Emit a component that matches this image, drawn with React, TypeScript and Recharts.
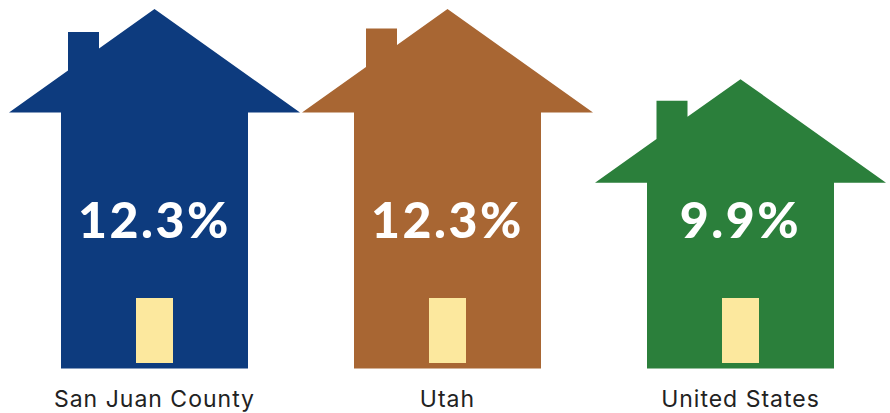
import React from "react";
import { BarChart, Bar, Cell, LabelList, XAxis, YAxis } from "recharts";

const categories = ["San Juan County", "Utah", "United States"];
const rates = [12.3, 12.3, 9.9];

const COLORS = ["#0D3B7E", "#A86633", "#2B7F3B"];
const DOOR = "#FCE89E";
// the chimney sits a little differently on each house in the original
const CHIMNEY_SHIFT = [0, 5, 2.5];
const CHIMNEY_TOP = [23, 19.5, 21.5];

const data = categories.map((name, i) => ({ name, rate: rates[i] }));

// house pictogram: roof and door keep their size, only the walls follow the value
const House = (props: any) => {
  const { x, y, width, height, fill, index } = props;
  const cx = x + width / 2;
  const bottom = y + height;
  const eave = y + 103.5;
  const slope = 103.5 / (width / 2);
  const left = cx - 86.5 + CHIMNEY_SHIFT[index];
  const right = left + 31;
  const d = [
    `M${cx} ${y}`,
    `L${x + width} ${eave}`,
    `L${cx + 93.5} ${eave}`,
    `L${cx + 93.5} ${bottom}`,
    `L${cx - 93.5} ${bottom}`,
    `L${cx - 93.5} ${eave}`,
    `L${x} ${eave}`,
    `L${left} ${y + (cx - left) * slope}`,
    `L${left} ${y + CHIMNEY_TOP[index]}`,
    `L${right} ${y + CHIMNEY_TOP[index]}`,
    `L${right} ${y + (cx - right) * slope}`,
    "Z",
  ].join(" ");
  return (
    <g>
      <path d={d} fill={fill} />
      <rect x={cx - 18.5} y={bottom - 70.5} width={37} height={65} fill={DOOR} />
    </g>
  );
};

const RateLabel = (props: any) => {
  const { x, y, width, height, value } = props;
  return (
    <text
      x={x + width / 2}
      y={y + height - 150}
      textAnchor="middle"
      dominantBaseline="central"
      fill="#ffffff"
      fontFamily="Lato"
      fontWeight={900}
      fontSize={50}
      letterSpacing={2.5}
    >
      {value}%
    </text>
  );
};

const App = () => {
  return (
    <div style={{ position: "absolute", left: 0, top: 0 }}>
      <BarChart
        width={890}
        height={413}
        data={data}
        margin={{ top: 9, right: 3, bottom: 0, left: 8 }}
      >
        <XAxis
          dataKey="name"
          height={44.5}
          axisLine={false}
          tickLine={false}
          interval={0}
          tickMargin={16}
          tick={{ fill: "#222222", fontSize: 23, fontFamily: "Inter", letterSpacing: 1 }}
        />
        <YAxis hide domain={[0, 12.3]} />
        <Bar dataKey="rate" barSize={291} shape={House} isAnimationActive={false}>
          {data.map((entry, index) => (
            <Cell key={`cell-${index}`} fill={COLORS[index]} />
          ))}
          <LabelList dataKey="rate" content={RateLabel} />
        </Bar>
      </BarChart>
    </div>
  );
};

export default App;
